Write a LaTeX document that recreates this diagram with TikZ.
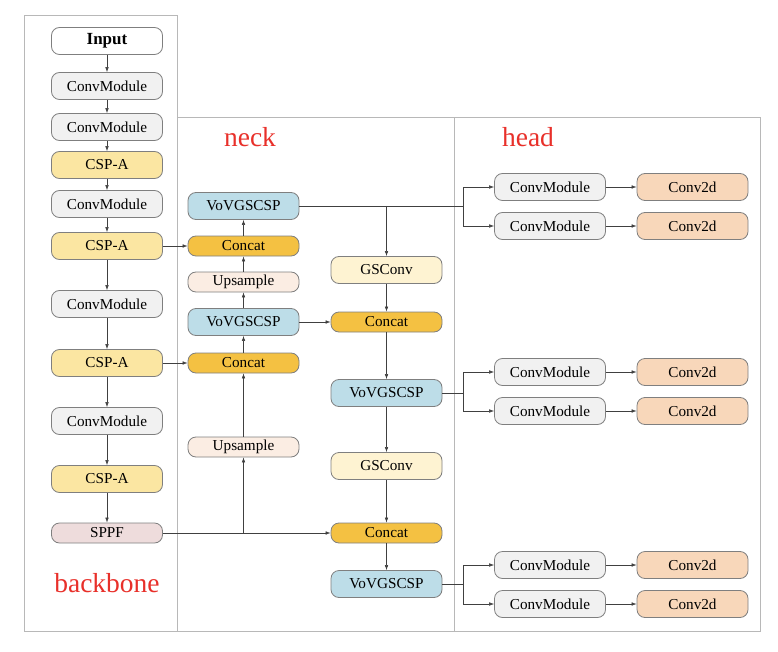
\documentclass[tikz,border=0pt]{standalone}
\usepackage{fontspec}
\setmainfont{Liberation Serif}
\usetikzlibrary{arrows.meta}

\definecolor{cmgray}{HTML}{F1F1F1}
\definecolor{cspyel}{HTML}{FBE6A2}
\definecolor{vovblue}{HTML}{BDDDE8}
\definecolor{catorg}{HTML}{F4C142}
\definecolor{upbeige}{HTML}{FBEDE3}
\definecolor{gscream}{HTML}{FEF3D2}
\definecolor{sppfpink}{HTML}{EEDCDC}
\definecolor{convpeach}{HTML}{F8D7BA}
\definecolor{edgegray}{HTML}{7F7F7F}
\definecolor{stagered}{HTML}{E8302A}

\begin{document}
\begin{tikzpicture}[x=1pt, y=-1pt,
    blk/.style={draw=edgegray, line width=0.8pt, rounded corners=8pt,
        minimum width=111pt, minimum height=27pt, inner sep=0pt,
        font=\fontsize{15.2}{17}\selectfont},
    flat/.style={blk, minimum height=20pt},
    arr/.style={-{Latex[length=5pt,width=3.6pt]}, line width=0.6pt, draw=black!75},
    link/.style={line width=0.6pt, draw=black!75},
    frame/.style={draw=black!28, line width=0.6pt},
    stage/.style={text=stagered, font=\fontsize{27.5}{30}\selectfont}]
    \useasboundingbox (0,0) rectangle (778,652);

    % Stage frames
    \draw[frame] (24,15) rectangle (177,631);
    \draw[frame] (177,117) rectangle (454,631);
    \draw[frame] (454,117) rectangle (760,631);

    \node[stage] (bbtxt) at (107,583) {backbone};
    \node[stage] (necktxt) at (250,137) {neck};
    \node[stage] (headtxt) at (528,137) {head};

    % Backbone
    \node[blk, fill=white, font=\fontsize{17}{19}\selectfont\bfseries] (inp) at (107,41) {Input};
    \foreach \name/\y/\lbl/\col in {cm1/86/ConvModule/cmgray, cm2/127/ConvModule/cmgray,
        csp1/165/CSP-A/cspyel, cm3/204/ConvModule/cmgray, csp2/246/CSP-A/cspyel,
        cm4/304/ConvModule/cmgray, csp3/363/CSP-A/cspyel, cm5/421/ConvModule/cmgray,
        csp4/479/CSP-A/cspyel} {
        \node[blk, fill=\col] (\name) at (107,\y) {\lbl};
    }
    \node[flat, fill=sppfpink] (sppf) at (107,533) {SPPF};

    \foreach \a/\b in {inp/cm1, cm1/cm2, cm2/csp1, csp1/cm3, cm3/csp2, csp2/cm4,
        cm4/csp3, csp3/cm5, cm5/csp4, csp4/sppf} {
        \draw[arr] (\a) -- (\b);
    }

    % Neck, upward path
    \node[blk, fill=vovblue] (vov1) at (243.5,206) {VoVGSCSP};
    \node[flat, fill=catorg] (cat1) at (243.5,246) {Concat};
    \node[flat, fill=upbeige] (up1) at (243.5,282) {Upsample};
    \node[blk, fill=vovblue] (vov2) at (243.5,322) {VoVGSCSP};
    \node[flat, fill=catorg] (cat2) at (243.5,363) {Concat};
    \node[flat, fill=upbeige] (up2) at (243.5,447) {Upsample};

    % Neck, downward path
    \node[blk, fill=gscream] (gs1) at (386.5,270) {GSConv};
    \node[flat, fill=catorg] (cat3) at (386.5,322) {Concat};
    \node[blk, fill=vovblue] (vov3) at (386.5,393) {VoVGSCSP};
    \node[blk, fill=gscream] (gs2) at (386.5,466) {GSConv};
    \node[flat, fill=catorg] (cat4) at (386.5,533) {Concat};
    \node[blk, fill=vovblue] (vov4) at (386.5,584) {VoVGSCSP};

    \draw[arr] (csp2) -- (cat1);
    \draw[arr] (csp3) -- (cat2);
    \draw[arr] (sppf) -- (cat4);
    \draw[arr] (sppf -| up2) -- (up2);
    \foreach \a/\b in {up2/cat2, cat2/vov2, vov2/up1, up1/cat1, cat1/vov1,
        gs1/cat3, cat3/vov3, vov3/gs2, gs2/cat4, cat4/vov4} {
        \draw[arr] (\a) -- (\b);
    }
    \draw[arr] (vov2) -- (cat3);
    \draw[arr] (vov1 -| gs1) -- (gs1);

    % Head
    \foreach \i/\y in {1/187, 2/226, 3/372, 4/411, 5/565, 6/604} {
        \node[blk, fill=cmgray] (hc\i) at (550,\y) {ConvModule};
        \node[blk, fill=convpeach] (hd\i) at (692.5,\y) {Conv2d};
        \draw[arr] (hc\i) -- (hd\i);
    }

    \coordinate (br1) at (463,206);
    \coordinate (br2) at (463,393);
    \coordinate (br3) at (463,584);
    \draw[link] (vov1) -- (br1);
    \draw[link] (vov3) -- (br2);
    \draw[link] (vov4) -- (br3);
    \draw[arr] (br1) |- (hc1);
    \draw[arr] (br1) |- (hc2);
    \draw[arr] (br2) |- (hc3);
    \draw[arr] (br2) |- (hc4);
    \draw[arr] (br3) |- (hc5);
    \draw[arr] (br3) |- (hc6);
\end{tikzpicture}
\end{document}
